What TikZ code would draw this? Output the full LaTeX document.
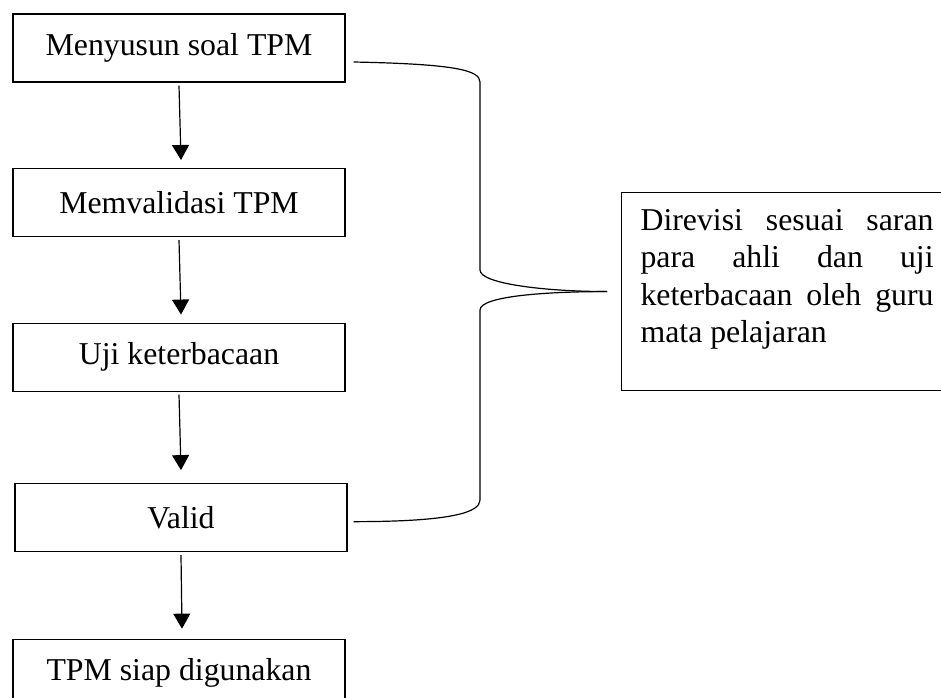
\documentclass[tikz,border=0pt]{standalone}
\usepackage{fontspec}
\setmainfont{Liberation Serif}
\usepackage{tikz}
\usetikzlibrary{arrows.meta}
\usetikzlibrary{positioning}
\usetikzlibrary{calc}
\tolerance=10000
\hyphenpenalty=10000
\tikzstyle{stepBox} = [rectangle, draw, line width=1.1pt, minimum width=332pt, minimum height=68pt, text centered]
\tikzstyle{stepArrow} = [line width=1.2pt, -{Triangle[length=15pt,width=17pt]}]
\tikzstyle{braceLine} = [line width=1.2pt]

\begin{document}
\begin{tikzpicture}[x=1pt, y=-1pt, font=\fontsize{31.8}{37.5}\selectfont]
	\clip (0,0) rectangle (941,697);
	
	\node[stepBox](menyusun) at (179,48){Menyusun soal TPM};
	
	\node[stepBox]at([yshift=-120pt]menyusun.south)(validasi){Memvalidasi TPM};
	
	\node[stepBox]at([yshift=-120pt]validasi.south)(uji){Uji keterbacaan};
	
	\node[stepBox]at([xshift=2pt, yshift=-126pt]uji.south)(valid){Valid};
	
	\node[stepBox]at([xshift=-2pt, yshift=-121pt]valid.south)(siap){TPM siap digunakan};
	
	\node[rectangle, draw, line width=1.1pt, anchor=north west, text width=293pt, align=justify, inner xsep=19pt, minimum height=198pt](revisi) at (621,192){Direvisi sesuai saran para ahli dan uji keterbacaan oleh guru mata pelajaran\rule[-31pt]{0pt}{31pt}};
	
	% arrows between the steps
	\draw[stepArrow] ([yshift=-3pt]menyusun.south) -- ([xshift=2pt, yshift=8pt]validasi.north);
	\draw[stepArrow] ([yshift=-3pt]validasi.south) -- ([xshift=2pt, yshift=8pt]uji.north);
	\draw[stepArrow] ([yshift=-3pt]uji.south) -- ([xshift=0pt, yshift=13pt]valid.north);
	\draw[stepArrow] ([yshift=-3pt]valid.south) -- ([xshift=3pt, yshift=10pt]siap.north);
	
	% brace
	\coordinate (braceTop) at ([xshift=8pt, yshift=-14pt]menyusun.east);
	\coordinate (braceBot) at ([xshift=6pt, yshift=-4pt]valid.east);
	\coordinate (braceTip) at ([xshift=-14pt]revisi.west);
	\draw[braceLine] (braceTop) .. controls +(100,2) and +(0,-12) .. (480,82) -- (480,270) .. controls +(0,14) and +(-60,0) .. (braceTip);
	\draw[braceLine] (braceTip) .. controls +(-60,0) and +(0,-14) .. (480,310) -- (480,500) .. controls +(0,12) and +(100,0) .. (braceBot);
	
\end{tikzpicture}
\end{document}
